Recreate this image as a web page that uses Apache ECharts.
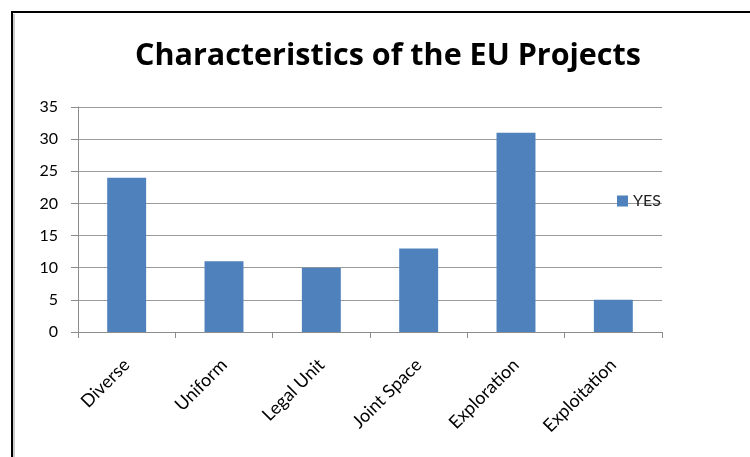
<!DOCTYPE html>
<html><head><meta charset="utf-8">
<script src="https://cdn.jsdelivr.net/npm/echarts@6/dist/echarts.min.js"></script>
<style>html,body{margin:0;padding:0;background:#fff}#c{width:750px;height:457px}</style>
</head><body><div id="c"></div>
<script>
const categories = ['Diverse','Uniform','Legal Unit','Joint Space','Exploration','Exploitation'];
const yesValues = [24, 11, 10, 13, 31, 5];
const seriesName = 'YES';
const titleText = 'Characteristics of the EU Projects';

const chart = echarts.init(document.getElementById('c'));
const font = 'Lato, "Open Sans", sans-serif';
chart.setOption({
  animation: false,
  backgroundColor: '#fff',
  title: {
    text: titleText, left: 130, top: 36,
    textStyle: {fontFamily: '"Open Sans", sans-serif', fontSize: 30.5, fontWeight: 'bold', color: '#000'}
  },
  legend: {
    data: [seriesName], left: 612, top: 188, itemWidth: 11, itemHeight: 11, itemGap: 5,
    textStyle: {fontFamily: font, fontSize: 16, color: '#222'}, icon: 'rect'
  },
  grid: {left: 78, top: 107, width: 584, height: 225, containLabel: false},
  xAxis: {
    type: 'category', data: categories,
    axisLine: {lineStyle: {color: '#8c8c8c', width: 1}},
    axisTick: {show: true, length: 6, lineStyle: {color: '#8c8c8c'}},
    axisLabel: {rotate: 45, margin: 30, fontFamily: font, fontSize: 18, color: '#000', interval: 0}
  },
  yAxis: {
    type: 'value', min: 0, max: 35, interval: 5,
    axisLine: {show: true, lineStyle: {color: '#8c8c8c'}},
    axisTick: {show: true, length: 7, lineStyle: {color: '#8c8c8c'}},
    splitLine: {lineStyle: {color: '#9a9a9a', width: 1}},
    axisLabel: {fontFamily: font, fontSize: 16, color: '#000', margin: 20}
  },
  series: [{
    name: seriesName, type: 'bar', data: yesValues, barWidth: '40%',
    itemStyle: {color: '#4F81BD'}
  }],
  graphic: [
    {type: 'line', shape: {x1: 12, y1: 12, x2: 12, y2: 457}, style: {stroke: '#000', lineWidth: 2}},
    {type: 'line', shape: {x1: 11, y1: 12, x2: 750, y2: 12}, style: {stroke: '#000', lineWidth: 2}},
    {type: 'line', shape: {x1: 14, y1: 14, x2: 14, y2: 457}, style: {stroke: '#999', lineWidth: 1}}
  ]
});
</script></body></html>
